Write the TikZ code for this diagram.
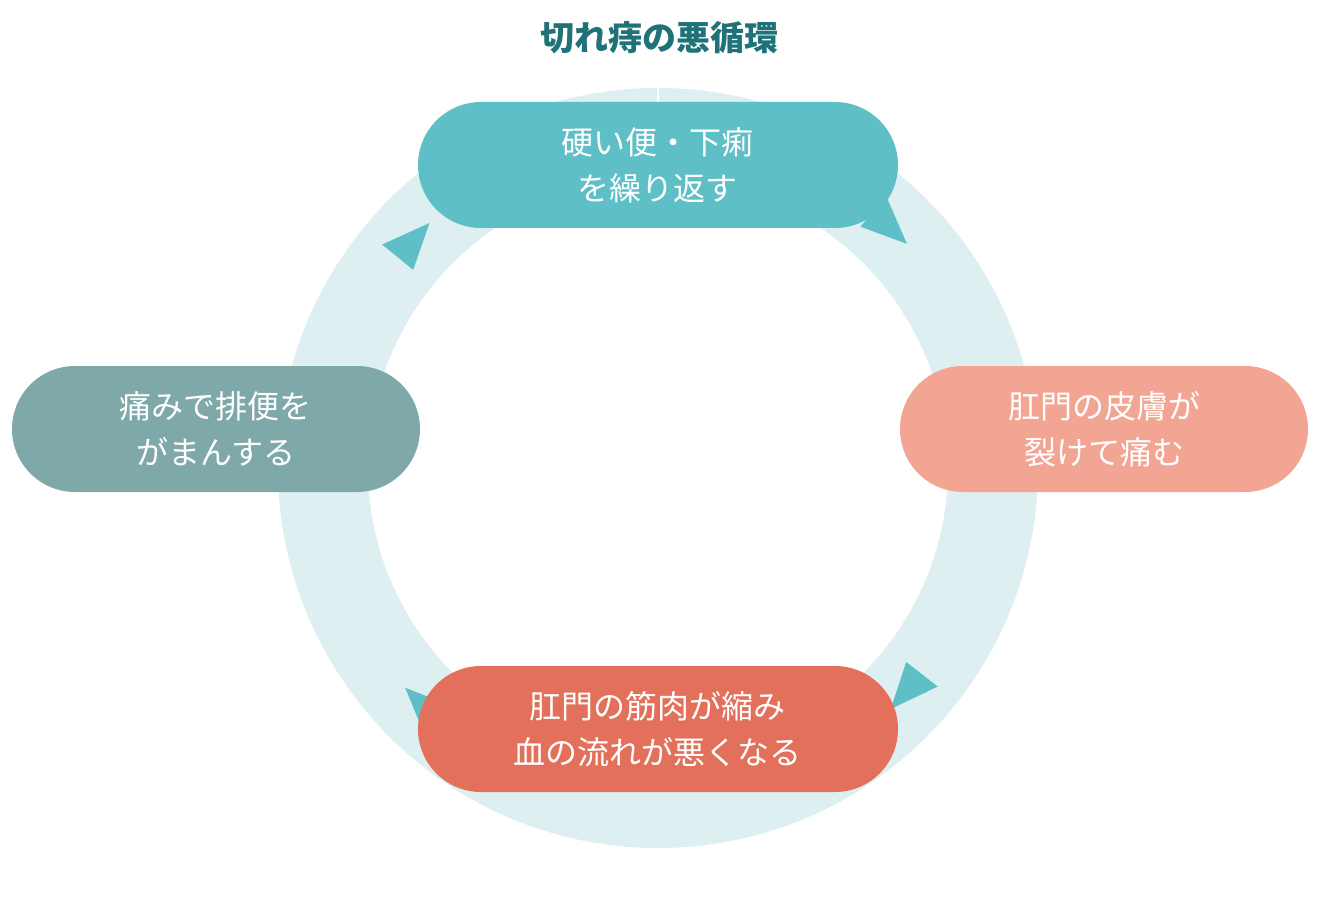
\documentclass[tikz,border=0pt]{standalone}
\usepackage{fontspec}
\setmainfont{Noto Sans CJK JP}
\definecolor{ring}{HTML}{DDEFF0}
\definecolor{teal}{HTML}{5FBFC6}
\definecolor{salmon}{HTML}{F2A593}
\definecolor{coral}{HTML}{E2705A}
\definecolor{slate}{HTML}{7FA8A8}
\definecolor{titlec}{HTML}{1E7278}
\tikzset{
  stage/.style={rounded corners=63pt, minimum height=126pt, minimum width=480pt,
    text=white, align=center, inner sep=0pt, font=\fontsize{32}{46}\selectfont},
  side/.style={stage, minimum width=408pt}
}
\begin{document}
\begin{tikzpicture}[x=1pt,y=1pt]
	\useasboundingbox (-658,-432) rectangle (662,468);
	%ring
	\fill[ring, even odd rule] (0,0) circle (380) (0,0) circle (290);
	\draw[white, line width=2pt] (0,290) -- (0,380);
	%arrow heads
	\foreach \a in {137, 46, -42, -135}{
		\fill[teal] (\a-4:335) -- (\a+4:355) -- (\a+4:315) -- cycle;
	}
	\node (title) at (2,430) {\fontsize{34}{40}\selectfont\bfseries\color{titlec}切れ痔の悪循環};
	\node[stage, fill=teal] (hard) at (0,303) {硬い便・下痢\\を繰り返す};
	\node[side, fill=salmon] (tear) at (446,39) {肛門の皮膚が\\裂けて痛む};
	\node[stage, fill=coral] (muscle) at (0,-261) {肛門の筋肉が縮み\\血の流れが悪くなる};
	\node[side, fill=slate] (hold) at (-442,39) {痛みで排便を\\がまんする};
\end{tikzpicture}
\end{document}
